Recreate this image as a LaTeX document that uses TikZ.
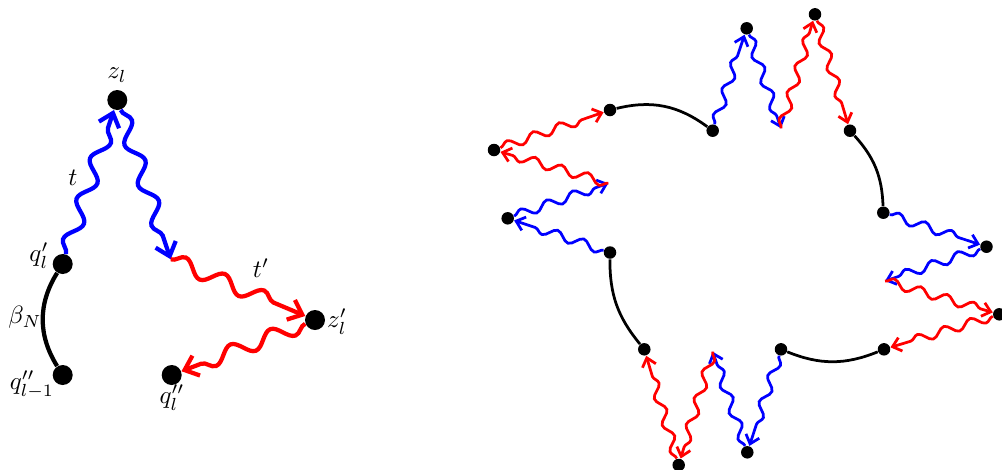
\documentclass[tikz,border=0pt]{standalone}
\usetikzlibrary{decorations.pathmorphing,arrows.meta}
\tikzset{
  bigdot/.style={circle,fill=black,inner sep=0pt,minimum size=8pt},
  smalldot/.style={circle,fill=black,inner sep=0pt,minimum size=5pt},
  bigwave/.style={line width=1.7pt,-{Straight Barb[length=5pt,width=8.5pt]},decorate,decoration={snake,amplitude=3pt,segment length=17pt,post length=6pt}},
  smallwave/.style={line width=1.1pt,-{Straight Barb[length=3.3pt,width=5.6pt]},decorate,decoration={snake,amplitude=1.8pt,segment length=11pt,post length=4pt}},
  bigarc/.style={line width=1.7pt},
  smallarc/.style={line width=1.1pt},
  lbl/.style={inner sep=0pt}
}
\begin{document}
\begin{tikzpicture}[x=0.4pt,y=-0.4pt]
\useasboundingbox (0,0) rectangle (1002,469);
% ---------- left figure ----------
\node[bigdot] (zl) at (117.3,100) {};
\node[bigdot] (qp) at (62.7,264) {};
\node[bigdot] (qpp) at (62.7,375) {};
\node[bigdot] (zp) at (315,320) {};
\node[bigdot] (qlpp) at (171.7,375) {};
\coordinate (fe) at (170.7,259.3);

\node[lbl] (Lzl) at (117,75) {$z_l$};
\node[lbl] (Lt) at (73,178) {$t$};
\node[lbl] (Lqp) at (39,256) {$q'_l$};
\node[lbl] (Lbeta) at (25,317) {$\beta_N$};
\node[lbl] (Lqpp) at (32,385) {$q''_{l-1}$};
\node[lbl] (Ltp) at (261,268) {$t'$};
\node[lbl] (Lzp) at (337,322) {$z'_l$};
\node[lbl] (Lqlpp) at (172,398) {$q''_l$};

\draw[bigarc] (qp) to[bend right=32] (qpp);
\draw[bigwave,blue] (qp) -- (zl);
\draw[bigwave,blue] (zl) -- (fe);
\draw[bigwave,red] (fe) -- (zp);
\draw[bigwave,red] (zp) -- (qlpp);

% ---------- right figure ----------
\node[smalldot] (A) at (610,110) {};
\node[smalldot] (B) at (712.7,130.7) {};
\node[smalldot] (C) at (746.7,28.3) {};
\node[smalldot] (D) at (815,14.3) {};
\node[smalldot] (E) at (850,130.7) {};
\node[smalldot] (F) at (883.3,212.7) {};
\node[smalldot] (G) at (986.5,246.7) {};
\node[smalldot] (H) at (999.3,314.3) {};
\node[smalldot] (I) at (884,349.3) {};
\node[smalldot] (J) at (781,349.3) {};
\node[smalldot] (K) at (747.3,452.3) {};
\node[smalldot] (L) at (678.7,465) {};
\node[smalldot] (M) at (644.3,349.3) {};
\node[smalldot] (N) at (610,252.5) {};
\node[smalldot] (O) at (507.7,218.3) {};
\node[smalldot] (P) at (494,150) {};
\coordinate (Q) at (781,128.3);
\coordinate (R) at (885,281);
\coordinate (S) at (712.7,351.7);
\coordinate (T) at (608.3,183.3);

\draw[smallarc] (A) to[bend left=25] (B);
\draw[smallarc] (E) to[bend left=20] (F);
\draw[smallarc] (J) to[bend right=22] (I);
\draw[smallarc] (N) to[bend right=20] (M);

% top
\draw[smallwave,blue] (B) -- (C);
\draw[smallwave,blue] (C) -- (Q);
\draw[smallwave,red] (Q) -- (D);
\draw[smallwave,red] (D) -- (E);
% right
\draw[smallwave,blue] (F) -- (G);
\draw[smallwave,blue] (G) -- (R);
\draw[smallwave,red] (R) -- (H);
\draw[smallwave,red] (H) -- (I);
% bottom
\draw[smallwave,blue] (J) -- (K);
\draw[smallwave,blue] (K) -- (S);
\draw[smallwave,red] (S) -- (L);
\draw[smallwave,red] (L) -- (M);
% left
\draw[smallwave,blue] (N) -- (O);
\draw[smallwave,blue] (O) -- (T);
\draw[smallwave,red] (T) -- (P);
\draw[smallwave,red] (P) -- (A);
\end{tikzpicture}
\end{document}
